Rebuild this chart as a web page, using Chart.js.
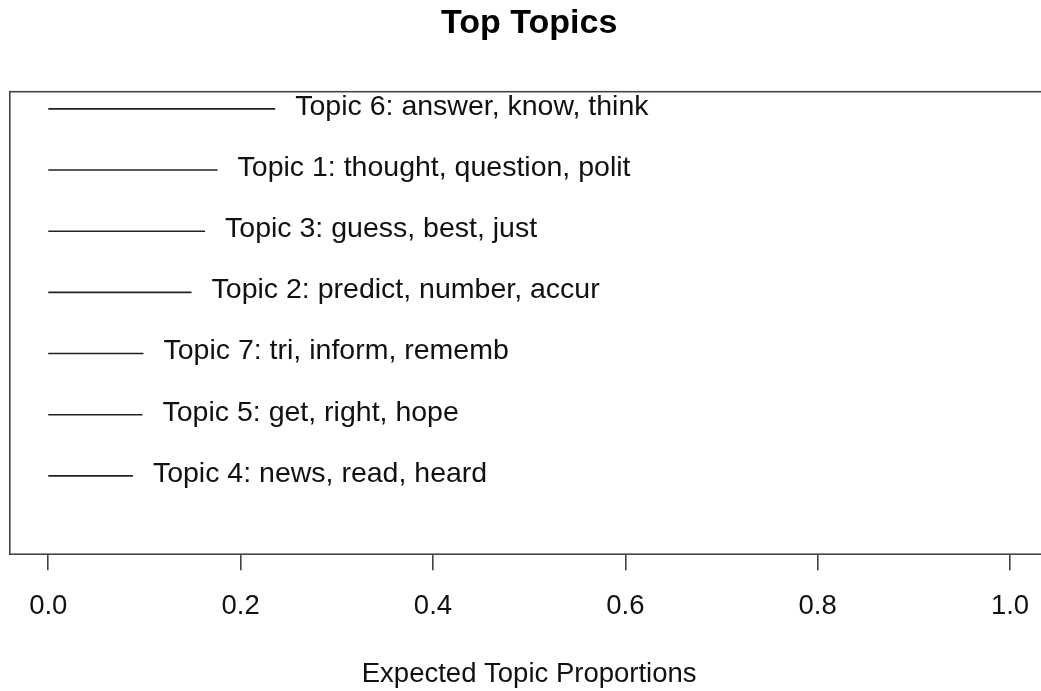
<!DOCTYPE html>
<html>
<head>
<meta charset="utf-8">
<script src="https://cdn.jsdelivr.net/npm/chart.js@4.4.1/dist/chart.umd.min.js"></script>
<style>
  html, body { margin: 0; padding: 0; background: #fff; overflow: hidden; }
  canvas { display: block; }
</style>
</head>
<body>
<canvas id="topicChart" width="1058" height="691"></canvas>
<script>
// Themen, sortiert wie im Bild (oben -> unten)
const topicLabels = [
    "Topic 6: answer, know, think",
    "Topic 1: thought, question, polit",
    "Topic 3: guess, best, just",
    "Topic 2: predict, number, accur",
    "Topic 7: tri, inform, rememb",
    "Topic 5: get, right, hope",
    "Topic 4: news, read, heard"
];
const proportions = [0.236, 0.176, 0.163, 0.149, 0.099, 0.098, 0.088];
const xTicks = [0, 0.2, 0.4, 0.6, 0.8, 1.0];

const FONT = "'Liberation Sans', Arial, Helvetica, sans-serif";

// eine Linie pro Thema, von 0 bis zum Anteil
const datasets = topicLabels.map((label, i) => {
    const row = topicLabels.length - i;
    return {
        label: label,
        data: [{ x: 0, y: row }, { x: proportions[i], y: row }],
        showLine: true,
        borderColor: "#222",
        borderWidth: 1.6,
        pointRadius: 0
    };
});

// Rahmen um den Plotbereich
const frame = {
    id: "frame",
    afterDraw(chart) {
        const { ctx, chartArea: a } = chart;
        ctx.save();
        ctx.strokeStyle = "#444";
        ctx.lineWidth = 1.6;
        ctx.strokeRect(a.left, a.top, a.right - a.left, a.bottom - a.top);
        ctx.restore();
    }
};

// Beschriftung rechts neben jeder Linie
const topicText = {
    id: "topicText",
    afterDatasetsDraw(chart) {
        const ctx = chart.ctx;
        ctx.save();
        ctx.font = "28.5px " + FONT;
        ctx.fillStyle = "#111";
        ctx.textAlign = "left";
        ctx.textBaseline = "middle";
        chart.data.datasets.forEach((ds, i) => {
            const end = chart.getDatasetMeta(i).data[1];
            ctx.fillText(ds.label, end.x + 20, end.y - 2);
        });
        ctx.restore();
    }
};

new Chart(document.getElementById("topicChart"), {
    type: "scatter",
    data: { datasets: datasets },
    options: {
        responsive: false,
        animation: false,
        layout: { padding: { left: 9.8, right: 9.5, top: 0, bottom: 0 } },
        plugins: {
            legend: { display: false },
            tooltip: { enabled: false },
            title: {
                display: true,
                text: "Top Topics",
                color: "#000",
                font: { family: FONT, size: 34, weight: "bold" },
                padding: { top: 3.5, bottom: 47.4 }
            }
        },
        scales: {
            x: {
                type: "linear",
                min: -0.04,
                max: 1.04,
                afterBuildTicks: axis => { axis.ticks = xTicks.map(v => ({ value: v })); },
                border: { display: false },
                grid: {
                    drawOnChartArea: false,
                    drawTicks: true,
                    tickLength: 16,
                    tickColor: "#444",
                    lineWidth: 1.6
                },
                ticks: {
                    color: "#111",
                    padding: 19.8,
                    maxRotation: 0,
                    font: { family: FONT, size: 27.5 },
                    callback: v => Number(v).toFixed(1)
                },
                title: {
                    display: true,
                    text: "Expected Topic Proportions",
                    color: "#111",
                    font: { family: FONT, size: 27.5 },
                    padding: { top: 14.7, bottom: 0.5 }
                }
            },
            y: {
                type: "linear",
                display: false,
                min: -0.28,
                max: 7.28
            }
        }
    },
    plugins: [frame, topicText]
});
</script>
</body>
</html>
